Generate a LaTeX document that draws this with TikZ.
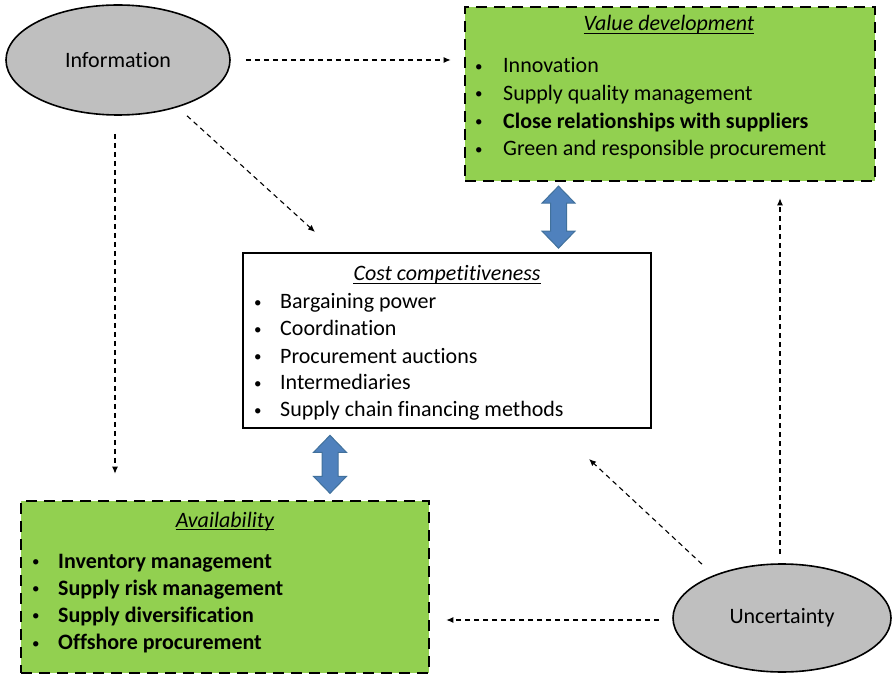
\documentclass[tikz,border=0pt]{standalone}
\usepackage{fontspec}
\setmainfont{Carlito}[Ligatures=NoCommon]
\usetikzlibrary{shapes.geometric,arrows.meta,calc}

\definecolor{boxgreen}{HTML}{92D050}
\definecolor{ovalgray}{HTML}{BFBFBF}
\definecolor{arrowblue}{HTML}{4F81BD}
\definecolor{arrowedge}{HTML}{41719C}

\newcommand{\bul}[1]{\makebox[#1][l]{\raisebox{1.6pt}{\fontsize{15}{15}\selectfont\textbullet}}}

\tikzset{
  oval/.style={ellipse, draw=black, line width=1.6pt, fill=ovalgray, inner sep=0pt},
  greenbox/.style={rectangle, draw=black, fill=boxgreen, line width=2.6pt,
    dash pattern=on 11pt off 7pt, inner sep=0pt},
  plainbox/.style={rectangle, draw=black, fill=white, line width=2pt, inner sep=0pt},
  title/.style={anchor=base, inner sep=0pt, font=\itshape},
  item/.style={anchor=base west, inner sep=0pt},
  flow/.style={draw=black, line width=1.1pt, dash pattern=on 5pt off 4pt,
    -{Latex[length=7pt,width=6pt]}},
  updown/.pic={
    \filldraw[fill=arrowblue, draw=arrowedge, line width=1pt]
      (0,-#1) -- (16.5,{-#1+17}) -- (8,{-#1+17}) -- (8,{#1-17}) -- (16.5,{#1-17})
      -- (0,#1) -- (-16.5,{#1-17}) -- (-8,{#1-17}) -- (-8,{-#1+17})
      -- (-16.5,{-#1+17}) -- cycle;
  }
}

\begin{document}
\begin{tikzpicture}[x=1pt,y=-1pt]
\fontsize{22}{27}\selectfont
\useasboundingbox (0,0) rectangle (892,676);

% the two driving factors
\node[oval, minimum width=224pt, minimum height=110pt] (info) at (118,60) {Information};
\node[oval, minimum width=218pt, minimum height=108pt] (unc) at (782,618) {Uncertainty};

% the three procurement objectives
\node[greenbox, minimum width=410pt, minimum height=174pt] (value) at (670,94) {};
\node[plainbox, minimum width=408pt, minimum height=175pt] (cost) at (447,340.5) {};
\node[greenbox, minimum width=408pt, minimum height=172pt] (avail) at (225,587) {};

% headings, underlined through the descenders
\node[title] (vt) at (669,31) {Value development};
\node[title] (ct) at (447,281) {Cost competitiveness};
\node[title] (at) at (225,527) {Availability};
\foreach \h in {vt,ct,at}
  \draw[line width=1.2pt] ([yshift=-2.5pt]\h.base west) -- ([yshift=-2.5pt]\h.base east);

% bullet lists
\foreach \t [count=\i] in {Innovation, Supply quality management,
    \textbf{Close relationships with suppliers}, Green and responsible procurement}
  \node[item] (v\i) at (475,{73+27.6*(\i-1)}) {\bul{28pt}\t};
\foreach \t [count=\i] in {Bargaining power, Coordination, Procurement auctions,
    Intermediaries, Supply chain financing methods}
  \node[item] (c\i) at (254,{309+27*(\i-1)}) {\bul{26pt}\t};
\foreach \t [count=\i] in {Inventory management, Supply risk management,
    Supply diversification, Offshore procurement}
  \node[item] (a\i) at (32,{568+27.2*(\i-1)}) {\bul{26pt}\textbf{\t}};

% two-way links between the objectives
\pic at ($(value.south)!0.5!(cost.north)$) {updown=31};
\pic at ($(cost.south)!0.5!(avail.north) + (-6,0)$) {updown=29};

% influence of information
\draw[flow, shorten <=15pt, shorten >=13pt] (info.east) -- (info.east -| value.west);
\draw[flow] ($(info.south)+(69,0)$) -- ($(cost.north west)+(73,-20)$);
\draw[flow] ($(info.south)+(-3,18)$) -- ($(info.south |- avail.north)+(-3,-26)$);

% influence of uncertainty
\draw[flow, shorten <=13pt, shorten >=16pt] ($(unc.west)+(0,2)$) -- ($(unc.west -| avail.east)+(0,2)$);
\draw[flow] ($(unc.north)+(-80,1)$) -- ($(cost.south east)+(-63,30)$);
\draw[flow, shorten <=9pt, shorten >=16pt] ($(unc.north)+(-2,0)$) -- ($(unc.north |- value.south)+(-2,0)$);
\end{tikzpicture}
\end{document}
